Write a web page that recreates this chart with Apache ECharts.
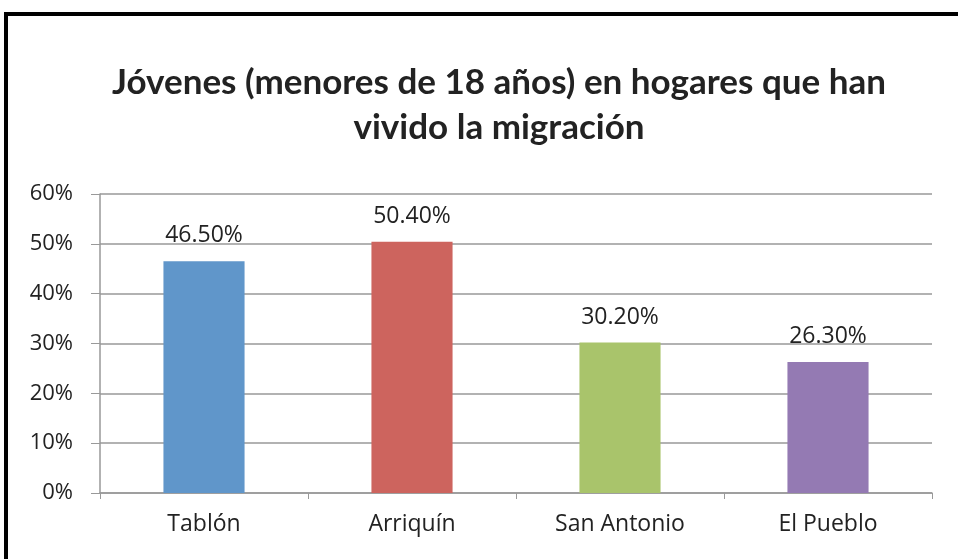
<!DOCTYPE html>
<html>
<head>
<meta charset="utf-8">
<script src="https://cdn.jsdelivr.net/npm/echarts@6/dist/echarts.min.js"></script>
<style>
  html, body { margin: 0; padding: 0; background: #fff; }
  #chart { width: 958px; height: 559px; }
  #frame { position: absolute; left: 4px; top: 12px; right: 0; bottom: 0;
           border-top: 4px solid #000; border-left: 4px solid #000; pointer-events: none; }
</style>
</head>
<body>
<div id="chart"></div>
<div id="frame"></div>
<script>
var categories = ['Tablón', 'Arriquín', 'San Antonio', 'El Pueblo'];
var values = [0.465, 0.504, 0.302, 0.263];
var barColors = ['#6096CA', '#CD645E', '#A9C46B', '#947AB3'];

var myChart = echarts.init(document.getElementById('chart'));

var option = {
    animation: false,
    title: {
        text: 'Jóvenes (menores de 18 años) en hogares que han\nvivido la migración',
        left: 494,
        textAlign: 'center',
        top: 55,
        textStyle: {
            fontFamily: 'Lato',
            fontWeight: 'bold',
            fontSize: 35,
            lineHeight: 45,
            color: '#222'
        }
    },
    grid: { left: 100, right: 26, top: 194, bottom: 66 },
    xAxis: {
        type: 'category',
        data: categories,
        axisLine: { lineStyle: { color: '#999', width: 1.5 } },
        axisTick: { show: true, length: 6, lineStyle: { color: '#999' } },
        axisLabel: { fontFamily: 'Open Sans', fontSize: 23, color: '#222', margin: 20 }
    },
    yAxis: {
        type: 'value',
        min: 0,
        max: 0.6,
        interval: 0.1,
        axisLine: { show: true, lineStyle: { color: '#999', width: 1.5 } },
        axisTick: { show: true, length: 9, lineStyle: { color: '#999' } },
        splitLine: { lineStyle: { color: '#999', width: 1.5 } },
        axisLabel: {
            fontFamily: 'Open Sans', fontSize: 22, color: '#222', margin: 27,
            formatter: function (v) { return Math.round(v * 100) + '%'; }
        }
    },
    series: [{
        type: 'bar',
        barWidth: '39%',
        data: values.map(function (v, i) {
            return { value: v, itemStyle: { color: barColors[i] } };
        }),
        label: {
            show: true,
            position: 'top',
            distance: 14,
            fontFamily: 'Open Sans',
            fontSize: 23,
            color: '#222',
            formatter: function (p) { return (p.value * 100).toFixed(2) + '%'; }
        }
    }]
};

myChart.setOption(option);
</script>
</body>
</html>
